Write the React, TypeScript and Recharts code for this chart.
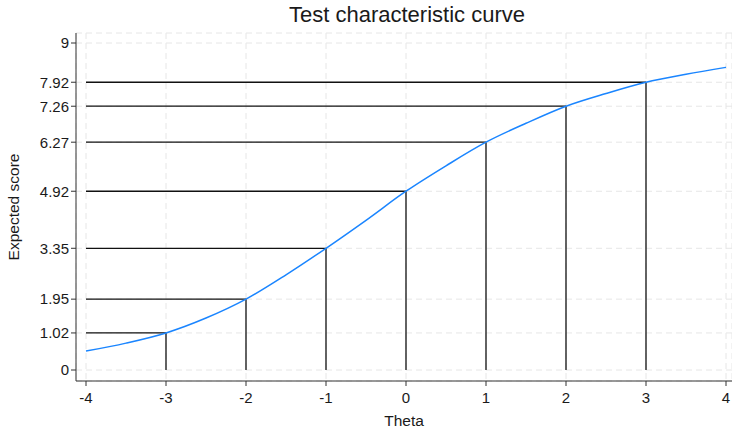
import { CartesianGrid, Label, Line, LineChart, ReferenceLine, XAxis, YAxis } from 'recharts';

const theta = [-4, -3.5, -3, -2.5, -2, -1.5, -1, -0.5, 0, 0.5, 1, 1.5, 2, 2.5, 3, 3.5, 4];
const score = [0.52, 0.74, 1.02, 1.43, 1.95, 2.62, 3.35, 4.12, 4.92, 5.62, 6.27, 6.79, 7.26, 7.61, 7.92, 8.14, 8.33];

const markTheta = [-3, -2, -1, 0, 1, 2, 3];
const markScore = [1.02, 1.95, 3.35, 4.92, 6.27, 7.26, 7.92];

const xTicks = [-4, -3, -2, -1, 0, 1, 2, 3, 4];
const yTicks = [0, 1.02, 1.95, 3.35, 4.92, 6.27, 7.26, 7.92, 9];

const data = theta.map((t, i) => ({ theta: t, score: score[i] }));

const font = '"Liberation Sans", Arial, sans-serif';
const tickStyle = { fontSize: 15, fill: '#1a1a1a', fontFamily: font };
const labelStyle = { fontSize: 15.5, fill: '#1a1a1a', fontFamily: font };

export default function App() {
  return (
    <div style={{ position: 'absolute', left: 0, top: 0, width: 732, height: 429, background: '#fff' }}>
      <div
        style={{
          position: 'absolute',
          left: 76,
          width: 662,
          top: 2,
          textAlign: 'center',
          fontFamily: font,
          fontSize: 22,
          color: '#1a1a1a',
        }}
      >
        Test characteristic curve
      </div>
      <LineChart width={732} height={429} data={data} margin={{ top: 33, right: 0, bottom: 0, left: 0 }}>
        <CartesianGrid stroke="#e6e6e6" strokeDasharray="6 4" />
        <XAxis
          dataKey="theta"
          type="number"
          domain={[-4, 4]}
          ticks={xTicks}
          padding={{ left: 10, right: 6 }}
          height={48}
          stroke="#333"
          tickSize={5}
          tickMargin={6}
          tick={tickStyle}
        >
          <Label value="Theta" position="insideBottom" offset={3} style={labelStyle} />
        </XAxis>
        <YAxis
          type="number"
          domain={[0, 9]}
          ticks={yTicks}
          padding={{ top: 10, bottom: 11 }}
          width={76}
          stroke="#333"
          tickSize={5}
          tick={tickStyle}
          interval={0}
        >
          <Label
            value="Expected score"
            angle={-90}
            position="insideLeft"
            offset={13}
            style={{ ...labelStyle, textAnchor: 'middle' }}
          />
        </YAxis>
        {markTheta.map((t, i) => (
          <ReferenceLine
            key={'h' + t}
            segment={[
              { x: -4, y: markScore[i] },
              { x: t, y: markScore[i] },
            ]}
            stroke="#111"
            strokeWidth={1.3}
          />
        ))}
        {markTheta.map((t, i) => (
          <ReferenceLine
            key={'v' + t}
            segment={[
              { x: t, y: 0 },
              { x: t, y: markScore[i] },
            ]}
            stroke="#111"
            strokeWidth={1.3}
          />
        ))}
        <Line
          dataKey="score"
          type="monotone"
          stroke="#1a85ff"
          strokeWidth={1.5}
          dot={false}
          isAnimationActive={false}
        />
      </LineChart>
    </div>
  );
}
